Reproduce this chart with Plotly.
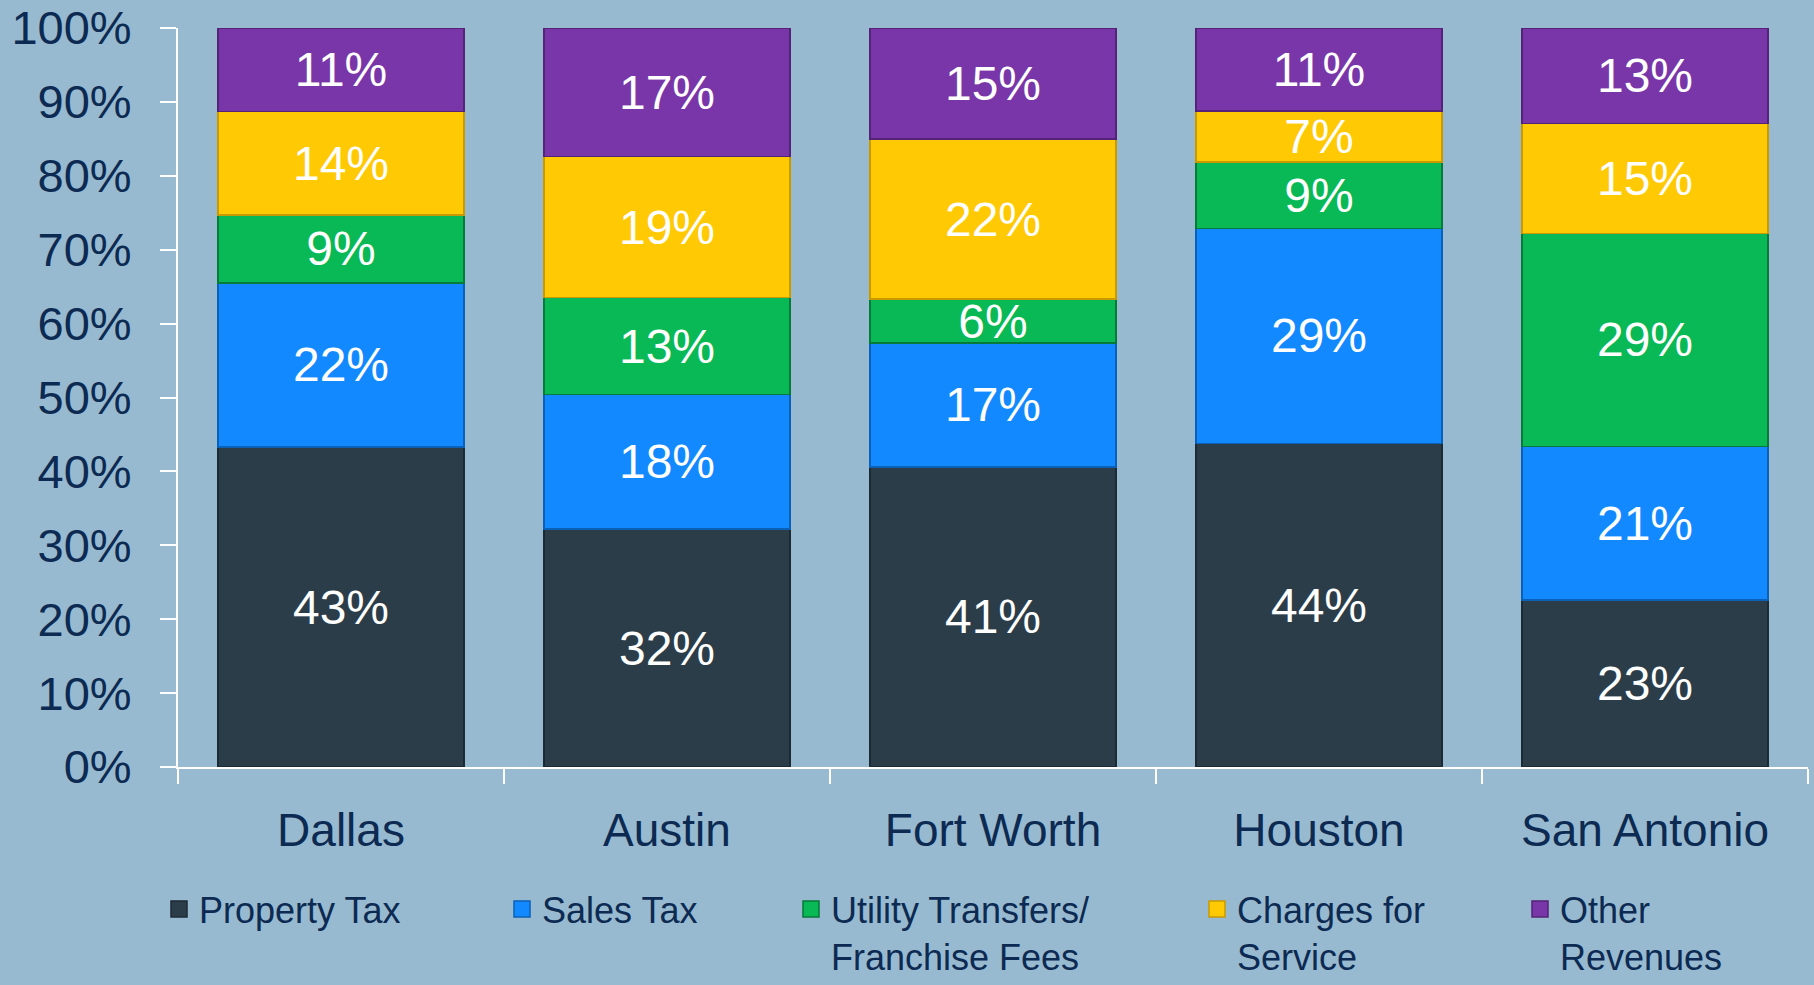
import plotly.graph_objects as go

cities = ["Dallas", "Austin", "Fort Worth", "Houston", "San Antonio"]
series_names = ["Property Tax", "Sales Tax", "Utility Transfers/<br>Franchise Fees",
                "Charges for<br>Service", "Other<br>Revenues"]
property_tax = [43.3, 32.2, 40.6, 43.8, 22.6]
sales_tax = [22.2, 18.2, 16.8, 29.1, 20.8]
utility_fees = [9.2, 13.1, 5.9, 9.0, 28.8]
charges_service = [14.0, 19.1, 21.7, 6.9, 14.9]
other_revenues = [11.3, 17.4, 15.0, 11.2, 12.9]
y_ticks = [0, 10, 20, 30, 40, 50, 60, 70, 80, 90, 100]

colors = ["#2C3D4A", "#1289FF", "#08B955", "#FFC903", "#7936A8"]
edge_colors = ["#1C2A34", "#0B60B8", "#067A38", "#C99A00", "#542277"]
series_values = [property_tax, sales_tax, utility_fees, charges_service, other_revenues]

FONT = "Liberation Sans"
NAVY = "#0C2A52"
W, H = 1814, 985
ML, MR, MT, MB = 178, 6, 28, 218
PW = W - ML - MR
PH = H - MT - MB

fig = go.Figure()
for name, vals, c, ec in zip(series_names, series_values, colors, edge_colors):
    fig.add_trace(go.Bar(
        x=cities, y=vals, name=name, showlegend=False,
        marker=dict(color=c, line=dict(color=ec, width=1.5)),
        texttemplate="%{y:.0f}%", textposition="inside", insidetextanchor="middle",
        textangle=0, constraintext="none",
        textfont=dict(family=FONT, size=48, color="white"),
    ))

# legend entries (one legend per series so each can be placed like the original)
legend_text_x = [203, 546, 835, 1241, 1564]
legend_ids = ["legend", "legend2", "legend3", "legend4", "legend5"]
for name, c, ec, lid in zip(series_names, colors, edge_colors, legend_ids):
    fig.add_trace(go.Scatter(
        x=[None], y=[None], mode="markers", name=name, legend=lid, showlegend=True,
        marker=dict(symbol="square", size=22, color=c, line=dict(color=ec, width=1.5)),
    ))

legend_layout = {}
for lid, tx in zip(legend_ids, legend_text_x):
    legend_layout[lid] = dict(
        x=(tx - 44 - ML) / PW, xanchor="left",
        y=(MT + PH - 879) / PH, yanchor="top",
        orientation="v", valign="top", itemsizing="trace",
        bgcolor="rgba(0,0,0,0)", borderwidth=0,
        font=dict(family=FONT, size=36, color=NAVY),
        itemclick=False, itemdoubleclick=False,
    )

fig.update_layout(
    width=W, height=H,
    margin=dict(l=ML, r=MR, t=MT, b=MB, pad=0, autoexpand=False),
    paper_bgcolor="#97BAD0", plot_bgcolor="rgba(0,0,0,0)",
    barmode="stack", bargap=0.245,
    font=dict(family=FONT, color=NAVY),
    showlegend=True,
    xaxis=dict(
        showline=True, linecolor="white", linewidth=2,
        ticks="outside", tickson="boundaries", ticklen=15, tickcolor="white", tickwidth=2,
        tickfont=dict(family=FONT, size=46, color=NAVY),
        ticklabelstandoff=22, showgrid=False, zeroline=False, automargin=False,
    ),
    yaxis=dict(
        range=[0, 100], tickvals=y_ticks, ticktext=[f"{v}%" for v in y_ticks],
        showline=True, linecolor="white", linewidth=2,
        ticks="outside", ticklen=16, tickcolor="white", tickwidth=2,
        tickfont=dict(family=FONT, size=47, color=NAVY),
        ticklabelstandoff=19, showgrid=False, zeroline=False, automargin=False,
    ),
    **legend_layout,
)

fig.write_html(
    "out.html",
    config={"displayModeBar": False},
    post_script="document.body.style.margin='0';document.body.style.overflow='hidden';"
                "document.body.style.background='#97BAD0';",
)
